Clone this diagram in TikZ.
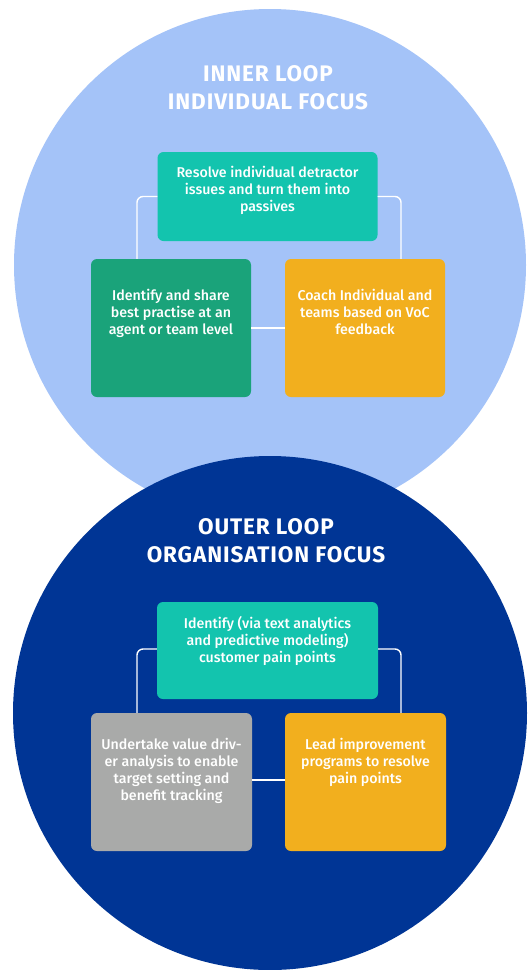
\documentclass[tikz,border=0pt]{standalone}
\usepackage{fontspec}
\setmainfont{Fira Sans}[UprightFont={* Medium}, BoldFont={* Bold}]
\definecolor{lightblue}{HTML}{A4C3F8}
\definecolor{darkblue}{HTML}{003595}
\definecolor{tealc}{HTML}{13C4AE}
\definecolor{greenc}{HTML}{1AA37A}
\definecolor{orangec}{HTML}{F2AF1E}
\definecolor{grayc}{HTML}{A9AAA9}
\tikzset{
  box/.style={rectangle, rounded corners=6pt, draw=none, inner sep=0pt},
  boxtext/.style={anchor=north, align=center, text=white, font=\fontsize{14.2}{17}\selectfont, inner sep=0pt},
  title/.style={align=center, text=white, font=\fontsize{22.5}{28}\selectfont\bfseries\addfontfeature{LetterSpace=4}, inner sep=0pt},
  link/.style={draw=white, line width=1.4pt, rounded corners=6pt}
}
\begin{document}
\begin{tikzpicture}[x=1pt,y=-1pt]
\fill[white] (0,0) rectangle (528,970);
\useasboundingbox (0,0) rectangle (528,970);
% circles
\fill[lightblue] (270,265) circle (256);
\fill[darkblue] (270,713) circle (257);

% ===== inner loop =====
\node[title] (t1) at (268,88) {INNER LOOP\\INDIVIDUAL FOCUS};
\node[box, fill=tealc, minimum width=220pt, minimum height=89pt] (a1) at (267.5,196.5) {};
\node[box, fill=greenc, minimum width=160pt, minimum height=138pt] (a2) at (171,328) {};
\node[box, fill=orangec, minimum width=160pt, minimum height=138pt] (a3) at (365,328) {};
\coordinate (cl1) at (137,0);
\coordinate (cr1) at (401,0);
\draw[link] (a1.west) -| (cl1 |- a2.north);
\draw[link] (a1.east) -| (cr1 |- a3.north);
\draw[link] (a2.east) -- (a3.west);
\node[boxtext] (a1t) at ([yshift=-14pt]a1.north) {Resolve individual detractor\\issues and turn them into\\passives};
\node[boxtext] (a2t) at ([yshift=-30pt]a2.north) {Identify and share\\best practise at an\\agent or team level};
\node[boxtext] (a3t) at ([yshift=-30pt]a3.north) {Coach Individual and\\teams based on VoC\\feedback};

% ===== outer loop =====
\node[title] (t2) at (266,541) {OUTER LOOP\\ORGANISATION FOCUS};
\node[box, fill=tealc, minimum width=221pt, minimum height=97pt] (b1) at (267.5,650.5) {};
\node[box, fill=grayc, minimum width=161pt, minimum height=138pt] (b2) at (171.5,782) {};
\node[box, fill=orangec, minimum width=161pt, minimum height=138pt] (b3) at (365.5,782) {};
\coordinate (cl2) at (137,0);
\coordinate (cr2) at (401,0);
\draw[link] ([yshift=1.5pt]b1.west) -| (cl2 |- b2.north);
\draw[link] ([yshift=1.5pt]b1.east) -| (cr2 |- b3.north);
\draw[link] ([yshift=2pt]b2.east) -- ([yshift=2pt]b3.west);
\node[boxtext] (b1t) at ([yshift=-14pt]b1.north) {Identify (via text analytics\\and predictive modeling)\\customer pain points};
\node[boxtext] (b2t) at ([yshift=-25pt]b2.north) {Undertake value driv-\\er analysis to enable\\target setting and\\benefit tracking};
\node[boxtext] (b3t) at ([yshift=-25pt]b3.north) {Lead improvement\\programs to resolve\\pain points};
\end{tikzpicture}
\end{document}
